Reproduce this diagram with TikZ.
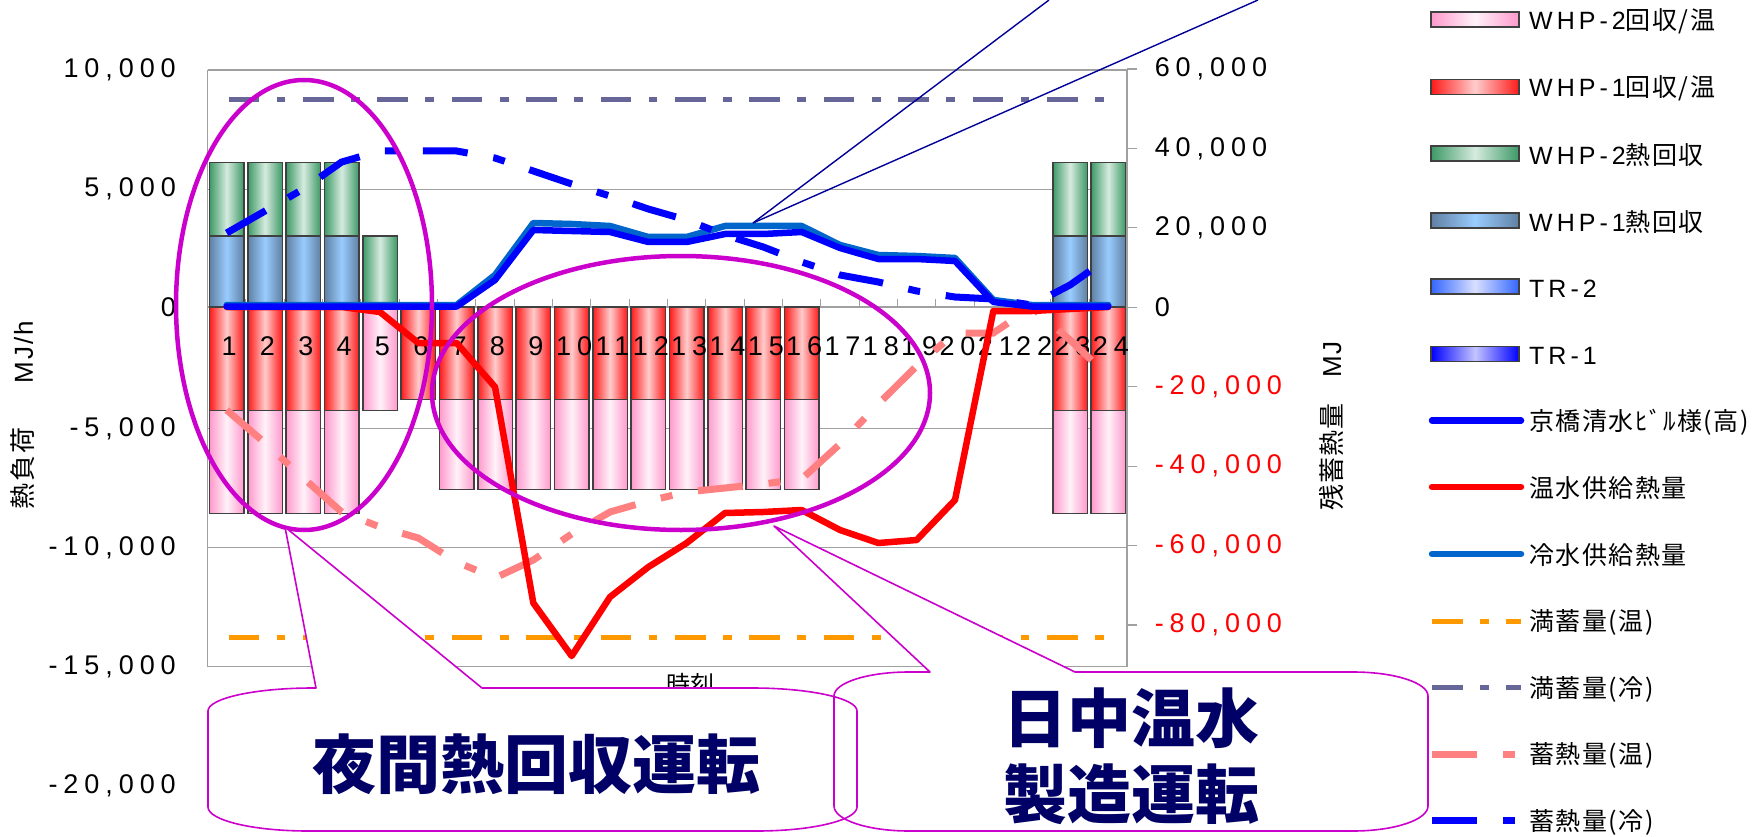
\documentclass[tikz,border=0pt]{standalone}
\usepackage{fontspec}
\setmainfont{Liberation Sans}
\newfontfamily\numf{Liberation Sans}[LetterSpace=22]
\newfontfamily\legl{Liberation Sans}[LetterSpace=16]
\newfontfamily\jpf{Noto Sans CJK JP}
\newfontfamily\jpl{Noto Sans CJK JP}[LetterSpace=6]
\newcommand\setfs[1]{\fontsize{#1}{#1}\selectfont}
\definecolor{pinkE}{HTML}{FF99CC}
\definecolor{pinkC}{HTML}{FFF2F9}
\definecolor{redE}{HTML}{FF1A1A}
\definecolor{redC}{HTML}{FFCCCC}
\definecolor{grnE}{HTML}{3D9966}
\definecolor{grnC}{HTML}{D6EBDF}
\definecolor{bluE}{HTML}{6080A3}
\definecolor{bluC}{HTML}{99CCFF}
\definecolor{trtE}{HTML}{3366FF}
\definecolor{trtC}{HTML}{D9E0FF}
\definecolor{troE}{HTML}{0000FF}
\definecolor{troC}{HTML}{C4C4FF}
\definecolor{kyo}{HTML}{0000FF}
\definecolor{onsui}{HTML}{FF0000}
\definecolor{reisui}{HTML}{0066CC}
\definecolor{manon}{HTML}{FF9900}
\definecolor{manrei}{HTML}{666699}
\definecolor{chikuon}{HTML}{FF8080}
\definecolor{chikurei}{HTML}{0000FF}
\definecolor{mag}{HTML}{CC00CC}
\definecolor{navytxt}{HTML}{000066}
\definecolor{ptrc}{HTML}{000099}
\definecolor{gridc}{HTML}{A0A0A0}
\definecolor{barline}{HTML}{404040}
\definecolor{negred}{HTML}{FF0000}
\tikzset{
  gridl/.style={draw=gridc, line width=1.2pt},
  barb/.style={draw=barline, line width=1.5pt},
  pinkbar/.style={barb, left color=pinkE, right color=pinkE, middle color=pinkC},
  redbar/.style={barb, left color=redE, right color=redE, middle color=redC},
  grnbar/.style={barb, left color=grnE, right color=grnE, middle color=grnC},
  blubar/.style={barb, left color=bluE, right color=bluE, middle color=bluC},
  trtbar/.style={barb, left color=trtE, right color=trtE, middle color=trtC},
  trobar/.style={barb, left color=troE, right color=troE, middle color=troC},
  kyoline/.style={draw=kyo, line width=6.5pt, line cap=round, line join=round},
  onsuiline/.style={draw=onsui, line width=6.5pt, line cap=round, line join=round},
  reisuiline/.style={draw=reisui, line width=6.5pt, line cap=round, line join=round},
  manonline/.style={draw=manon, line width=5pt, dash pattern=on 30.6pt off 17.5pt on 8.8pt off 17.5pt},
  manreiline/.style={draw=manrei, line width=5pt, dash pattern=on 30.6pt off 17.5pt on 8.8pt off 17.5pt},
  chikuonline/.style={draw=chikuon, line width=7pt, dash pattern=on 45pt off 26pt on 12pt off 26pt},
  chikureiline/.style={draw=chikurei, line width=7pt, dash pattern=on 45pt off 26pt on 12pt off 26pt},
  ellip/.style={draw=mag, line width=4.5pt},
  callbox/.style={fill=white},
  calledge/.style={draw=mag, line width=1.6pt, line join=round},
  ptrline/.style={draw=ptrc, line width=1.4pt},
  axlab/.style={font=\numf\setfs{27}, inner sep=0},
  legtxt/.style={anchor=west, inner sep=0, font=\setfs{25}},
  bigtxt/.style={font=\jpf\bfseries\setfs{64}, text=navytxt, inner sep=0},
  ttl/.style={font=\setfs{26}, inner sep=0, rotate=90}
}
\begin{document}
\begin{tikzpicture}[x=1pt,y=-1pt]
\useasboundingbox (0,0) rectangle (1759,837);
\fill[white] (0,0) rectangle (1759,837);

% ---------- grid and axes ----------
\foreach \g in {70,189.3,428.3,547.3,666.6} \draw[gridl] (207.5,\g) -- (1127,\g);
\draw[gridl] (207.5,70) -- (207.5,666.6);
\draw[gridl] (1127,69) -- (1127,666.6);
\draw[gridl] (207.5,307) -- (1127,307);
\foreach \k in {1,...,23} \draw[gridl] ({207.5+\k*38.333},299) -- ({207.5+\k*38.333},307);
\foreach \g in {70,189.3,307,428.3,547.3,666.6} \draw[gridl] (207.5,\g) -- (216,\g);
\foreach \g in {69,148.4,227.9,307.3,386.7,466.1,545.6,625} \draw[gridl] (1127,\g) -- (1137,\g);

% ---------- bars ----------
\foreach \i in {1,2,3,4,23,24}{
  \pgfmathsetmacro\cx{207.5+(\i-0.5)*38.333}
  \draw[blubar] (\cx-17.25,307) rectangle (\cx+17.25,236);
  \draw[grnbar] (\cx-17.25,236) rectangle (\cx+17.25,162.5);
  \draw[redbar] (\cx-17.25,307) rectangle (\cx+17.25,410.6);
  \draw[pinkbar] (\cx-17.25,410.6) rectangle (\cx+17.25,513.3);
}
\draw[grnbar] (380-17.25,307) rectangle (380+17.25,236);
\draw[pinkbar] (380-17.25,307) rectangle (380+17.25,410.6);
\draw[redbar] (418.33-17.25,307) rectangle (418.33+17.25,399.3);
\foreach \i in {7,...,16}{
  \pgfmathsetmacro\cx{207.5+(\i-0.5)*38.333}
  \draw[redbar] (\cx-17.25,307) rectangle (\cx+17.25,399.3);
  \draw[pinkbar] (\cx-17.25,399.3) rectangle (\cx+17.25,489.3);
}

% ---------- category labels ----------
\foreach \i in {1,...,24}{
  \pgfmathsetmacro\cx{207.5+(\i-0.5)*38.333}
  \node[axlab] (cat\i) at (\cx+2.5,346.5) {\i};
}

% ---------- left axis labels ----------
\node[axlab, anchor=east] (l1) at (176,70.3) {10,000};
\node[axlab, anchor=east] (l2) at (176,189.3) {5,000};
\node[axlab, anchor=east] (l3) at (176,307.5) {0};
\node[axlab, anchor=east] (l4) at (176,428.3) {-5,000};
\node[axlab, anchor=east] (l5) at (176,547.3) {-10,000};
\node[axlab, anchor=east] (l6) at (176,666.6) {-15,000};
\node[axlab, anchor=east] (l7) at (176,785.6) {-20,000};

% ---------- right axis labels ----------
\node[axlab, anchor=west] (r1) at (1154.6,69) {60,000};
\node[axlab, anchor=west] (r2) at (1154.6,148.4) {40,000};
\node[axlab, anchor=west] (r3) at (1154.6,227.9) {20,000};
\node[axlab, anchor=west] (r4) at (1154.6,307.3) {0};
\node[axlab, anchor=west, text=negred] (r5) at (1154.6,386.7) {-20,000};
\node[axlab, anchor=west, text=negred] (r6) at (1154.6,466.1) {-40,000};
\node[axlab, anchor=west, text=negred] (r7) at (1154.6,545.6) {-60,000};
\node[axlab, anchor=west, text=negred] (r8) at (1154.6,625) {-80,000};

% ---------- axis titles ----------
\node[ttl] (ytl) at (23,415) {{\jpf 熱\kern2pt 負\kern2pt 荷}\hspace{44pt}{\legl M\kern2pt J\kern2pt /\kern2pt h}};
\node[ttl] (ytr) at (1331,426) {{\jpf 残\kern1pt 蓄\kern1pt 熱\kern1pt 量}\hspace{26pt}{\legl M\kern2pt J}};
\node[font=\jpf\setfs{24}, inner sep=0] (xt) at (690,684) {時刻};

% ---------- series lines ----------
\coordinate (mo1) at (228.5,637.3); \coordinate (mo2) at (1108,637.3);
\coordinate (mr1) at (228.5,99.3);  \coordinate (mr2) at (1108,99.3);
\draw[manonline] (mo1) -- (mo2);
\draw[manreiline] (mr1) -- (mr2);

\draw[chikuonline] plot coordinates {(226.67,410) (265,443) (303.33,478) (341.67,512) (380,527) (418.33,538) (456.67,562) (495,578) (533.33,560) (571.67,534) (610,512) (648.33,501) (686.67,492) (725,488) (763.33,484) (801.67,479) (840,444) (878.33,404) (916.67,366) (955,333) (993.33,333) (1031.67,307) (1070,340) (1108.33,376)};

\draw[onsuiline] plot coordinates {(226.67,307) (265,307) (303.33,307) (341.67,307) (380,312) (418.33,343) (456.67,343) (495,387) (533.33,603) (571.67,656) (610,597) (648.33,567) (686.67,543) (725,513) (763.33,512) (801.67,510) (840,530) (878.33,543) (916.67,540) (955,500) (993.33,311) (1031.67,311) (1070,309) (1108.33,307)};

\draw[reisuiline] plot coordinates {(226.67,305) (265,305) (303.33,305) (341.67,305) (380,305) (418.33,305) (456.67,305) (495,275) (533.33,223) (571.67,224) (610,226) (648.33,237) (686.67,237) (725,226) (763.33,226) (801.67,226) (840,245) (878.33,255) (916.67,256) (955,258) (993.33,300) (1031.67,305) (1070,305) (1108.33,305)};

\draw[kyoline] plot coordinates {(226.67,306.5) (265,306.5) (303.33,306.5) (341.67,306.5) (380,306.5) (418.33,306.5) (456.67,306.5) (495,280) (533.33,230) (571.67,231) (610,232) (648.33,242) (686.67,242) (725,234) (763.33,234) (801.67,232) (840,248) (878.33,259) (916.67,259) (955,261) (993.33,302) (1031.67,306.5) (1070,306.5) (1108.33,306.5)};

\draw[chikureiline] plot coordinates {(226.67,233) (265,211) (303.33,189) (341.67,162) (380,151) (418.33,151) (456.67,151) (495,158) (533.33,171) (571.67,184) (610,196) (648.33,209) (686.67,220) (725,235) (763.33,247) (801.67,262) (840,275) (878.33,282) (916.67,291) (955,297) (993.33,299) (1031.67,305) (1070,285) (1108.33,258)};

% ---------- ellipses ----------
\draw[ellip] (304,305) ellipse [x radius=128, y radius=225];
\draw[ellip] (681,393) ellipse [x radius=249, y radius=137];

% ---------- pointer lines of an off-picture callout ----------
\coordinate (pa) at (753,223);
\coordinate (pb) at (1049,0);
\coordinate (pc) at (1258,0);
\draw[ptrline] (pa) -- (pb);
\draw[ptrline] (pa) -- (pc);

% ---------- callouts ----------
\def\caA{(208,711) arc[start angle=180,end angle=270,x radius=105,y radius=23] -- (316,688) -- (285,527) -- (482,688) -- (752,688) arc[start angle=270,end angle=360,x radius=105,y radius=23] -- (857,807) arc[start angle=0,end angle=90,x radius=100,y radius=24] -- (308,831) arc[start angle=90,end angle=180,x radius=100,y radius=24] -- cycle}
\def\caB{(834,696) arc[start angle=180,end angle=270,x radius=75,y radius=24] -- (930,672) -- (774,526) -- (1075,672) -- (1353,672) arc[start angle=270,end angle=360,x radius=75,y radius=24] -- (1428,806) arc[start angle=0,end angle=90,x radius=75,y radius=25] -- (909,831) arc[start angle=90,end angle=180,x radius=75,y radius=25] -- cycle}
\path[callbox] \caA;
\path[callbox] \caB;
\draw[calledge] \caA;
\draw[calledge] \caB;
\node[bigtxt] (ca) at (536,764) {夜間熱回収運転};
\node[bigtxt] (cb1) at (1131,718.5) {日中温水};
\node[bigtxt] (cb2) at (1131,794) {製造運転};

% ---------- legend ----------
\draw[pinkbar] (1431,11.8) rectangle (1519,26.8);
\draw[redbar]  (1431,79.4) rectangle (1519,94.4);
\draw[grnbar]  (1431,145.8) rectangle (1519,160.8);
\draw[blubar]  (1431,212.8) rectangle (1519,227.8);
\draw[trtbar]  (1431,279.2) rectangle (1519,294.2);
\draw[trobar]  (1431,346.4) rectangle (1519,361.4);
\draw[kyoline]    (1432,420.5) -- (1521,420.5);
\draw[onsuiline]  (1432,487) -- (1521,487);
\draw[reisuiline] (1432,554) -- (1521,554);
\draw[manonline]  (1432,621) -- (1521,621);
\draw[manreiline] (1432,687.8) -- (1521,687.8);
\draw[chikuonline]  (1432,754.2) -- (1521,754.2);
\draw[chikureiline] (1432,820.8) -- (1521,820.8);
\node[legtxt] (g0) at (1529,21) {\legl WHP-2\jpl 回収/温};
\node[legtxt] (g1) at (1529,88.6) {\legl WHP-1\jpl 回収/温};
\node[legtxt] (g2) at (1529,155) {\legl WHP-2\jpl 熱回収};
\node[legtxt] (g3) at (1529,222) {\legl WHP-1\jpl 熱回収};
\node[legtxt] (g4) at (1529,288.4) {\legl TR-2};
\node[legtxt] (g5) at (1529,355.6) {\legl TR-1};
\node[legtxt] (g6) at (1529,422) {\jpl 京橋清水ﾋﾞﾙ様(高)};
\node[legtxt] (g7) at (1529,488.5) {\jpl 温水供給熱量};
\node[legtxt] (g8) at (1529,555.5) {\jpl 冷水供給熱量};
\node[legtxt] (g9) at (1529,622.5) {\jpl 満蓄量(温)};
\node[legtxt] (g10) at (1529,689.3) {\jpl 満蓄量(冷)};
\node[legtxt] (g11) at (1529,755.7) {\jpl 蓄熱量(温)};
\node[legtxt] (g12) at (1529,822.3) {\jpl 蓄熱量(冷)};
\end{tikzpicture}
\end{document}
